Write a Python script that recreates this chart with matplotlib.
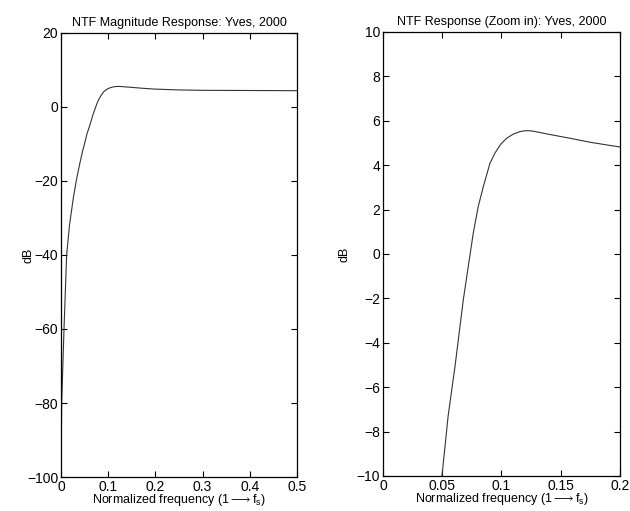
import matplotlib
matplotlib.use("Agg")
import matplotlib.pyplot as plt

plt.rcParams['font.family'] = ['Liberation Sans', 'DejaVu Sans']
plt.rcParams['mathtext.fontset'] = 'custom'
plt.rcParams['mathtext.rm'] = 'Liberation Sans'
plt.rcParams['mathtext.it'] = 'Liberation Sans'

# NTF magnitude (normalized freq, dB)
freq = [0.0, 0.0015, 0.0064, 0.012, 0.018, 0.026, 0.033, 0.040, 0.046,
        0.0498, 0.055, 0.0608, 0.0678, 0.072, 0.0762, 0.0804, 0.0847,
        0.0903, 0.0945, 0.0995, 0.1044, 0.11, 0.1156, 0.12, 0.124, 0.128,
        0.1325, 0.141, 0.15, 0.16, 0.175, 0.1986, 0.25, 0.3, 0.4, 0.5]
ntf_db = [-100, -80, -60, -40, -32, -24.7, -19.5, -15.2, -11.8,
          -10, -7.3, -5.07, -2.07, -0.57, 0.93, 2.13, 3.03,
          4.08, 4.54, 4.95, 5.21, 5.4, 5.51, 5.55, 5.55, 5.52,
          5.47, 5.38, 5.29, 5.19, 5.03, 4.83, 4.6, 4.5, 4.45, 4.4]

TITLES = ["NTF Magnitude Response: Yves, 2000", "NTF Response (Zoom in): Yves, 2000"]
XLABEL = r"Normalized frequency (1$\longrightarrow$f$_\mathregular{s}$)"

left_xticks = [0, 0.1, 0.2, 0.3, 0.4, 0.5]
left_xticklabels = ["0", "0.1", "0.2", "0.3", "0.4", "0.5"]
left_yticks = [-100, -80, -60, -40, -20, 0, 20]
right_xticks = [0, 0.05, 0.1, 0.15, 0.2]
right_xticklabels = ["0", "0.05", "0.1", "0.15", "0.2"]
right_yticks = [-10, -8, -6, -4, -2, 0, 2, 4, 6, 8, 10]

FS = 9
TICK_FS = 10

fig = plt.figure(figsize=(6.3, 5.11), dpi=100)
ax1 = fig.add_axes([0.0968, 0.0665, 0.3746, 0.869])
ax2 = fig.add_axes([0.6079, 0.0685, 0.376, 0.869])

def style(ax, xt, xtl, yt, xlim, ylim, title, ylab_x):
    ax.plot(freq, ntf_db, color="#333333", linewidth=0.8)
    ax.set_xlim(*xlim)
    ax.set_ylim(*ylim)
    ax.set_xticks(xt)
    ax.set_xticklabels(xtl)
    ax.set_yticks(yt)
    ax.tick_params(direction="in", top=True, right=True, labelsize=TICK_FS,
                   length=4, width=0.8, pad=2)
    for s in ax.spines.values():
        s.set_linewidth(0.9)
    ax.set_title(title, fontsize=FS, pad=5)
    ax.set_xlabel(XLABEL, fontsize=FS, labelpad=-1)
    ax.set_ylabel("dB", fontsize=FS)
    ax.yaxis.set_label_coords(ylab_x, 0.5)

style(ax1, left_xticks, left_xticklabels, left_yticks, (0, 0.5), (-100, 20), TITLES[0], -0.113)
style(ax2, right_xticks, right_xticklabels, right_yticks, (0, 0.2), (-10, 10), TITLES[1], -0.135)

fig.savefig("out.png", dpi=100)
plt.close(fig)
